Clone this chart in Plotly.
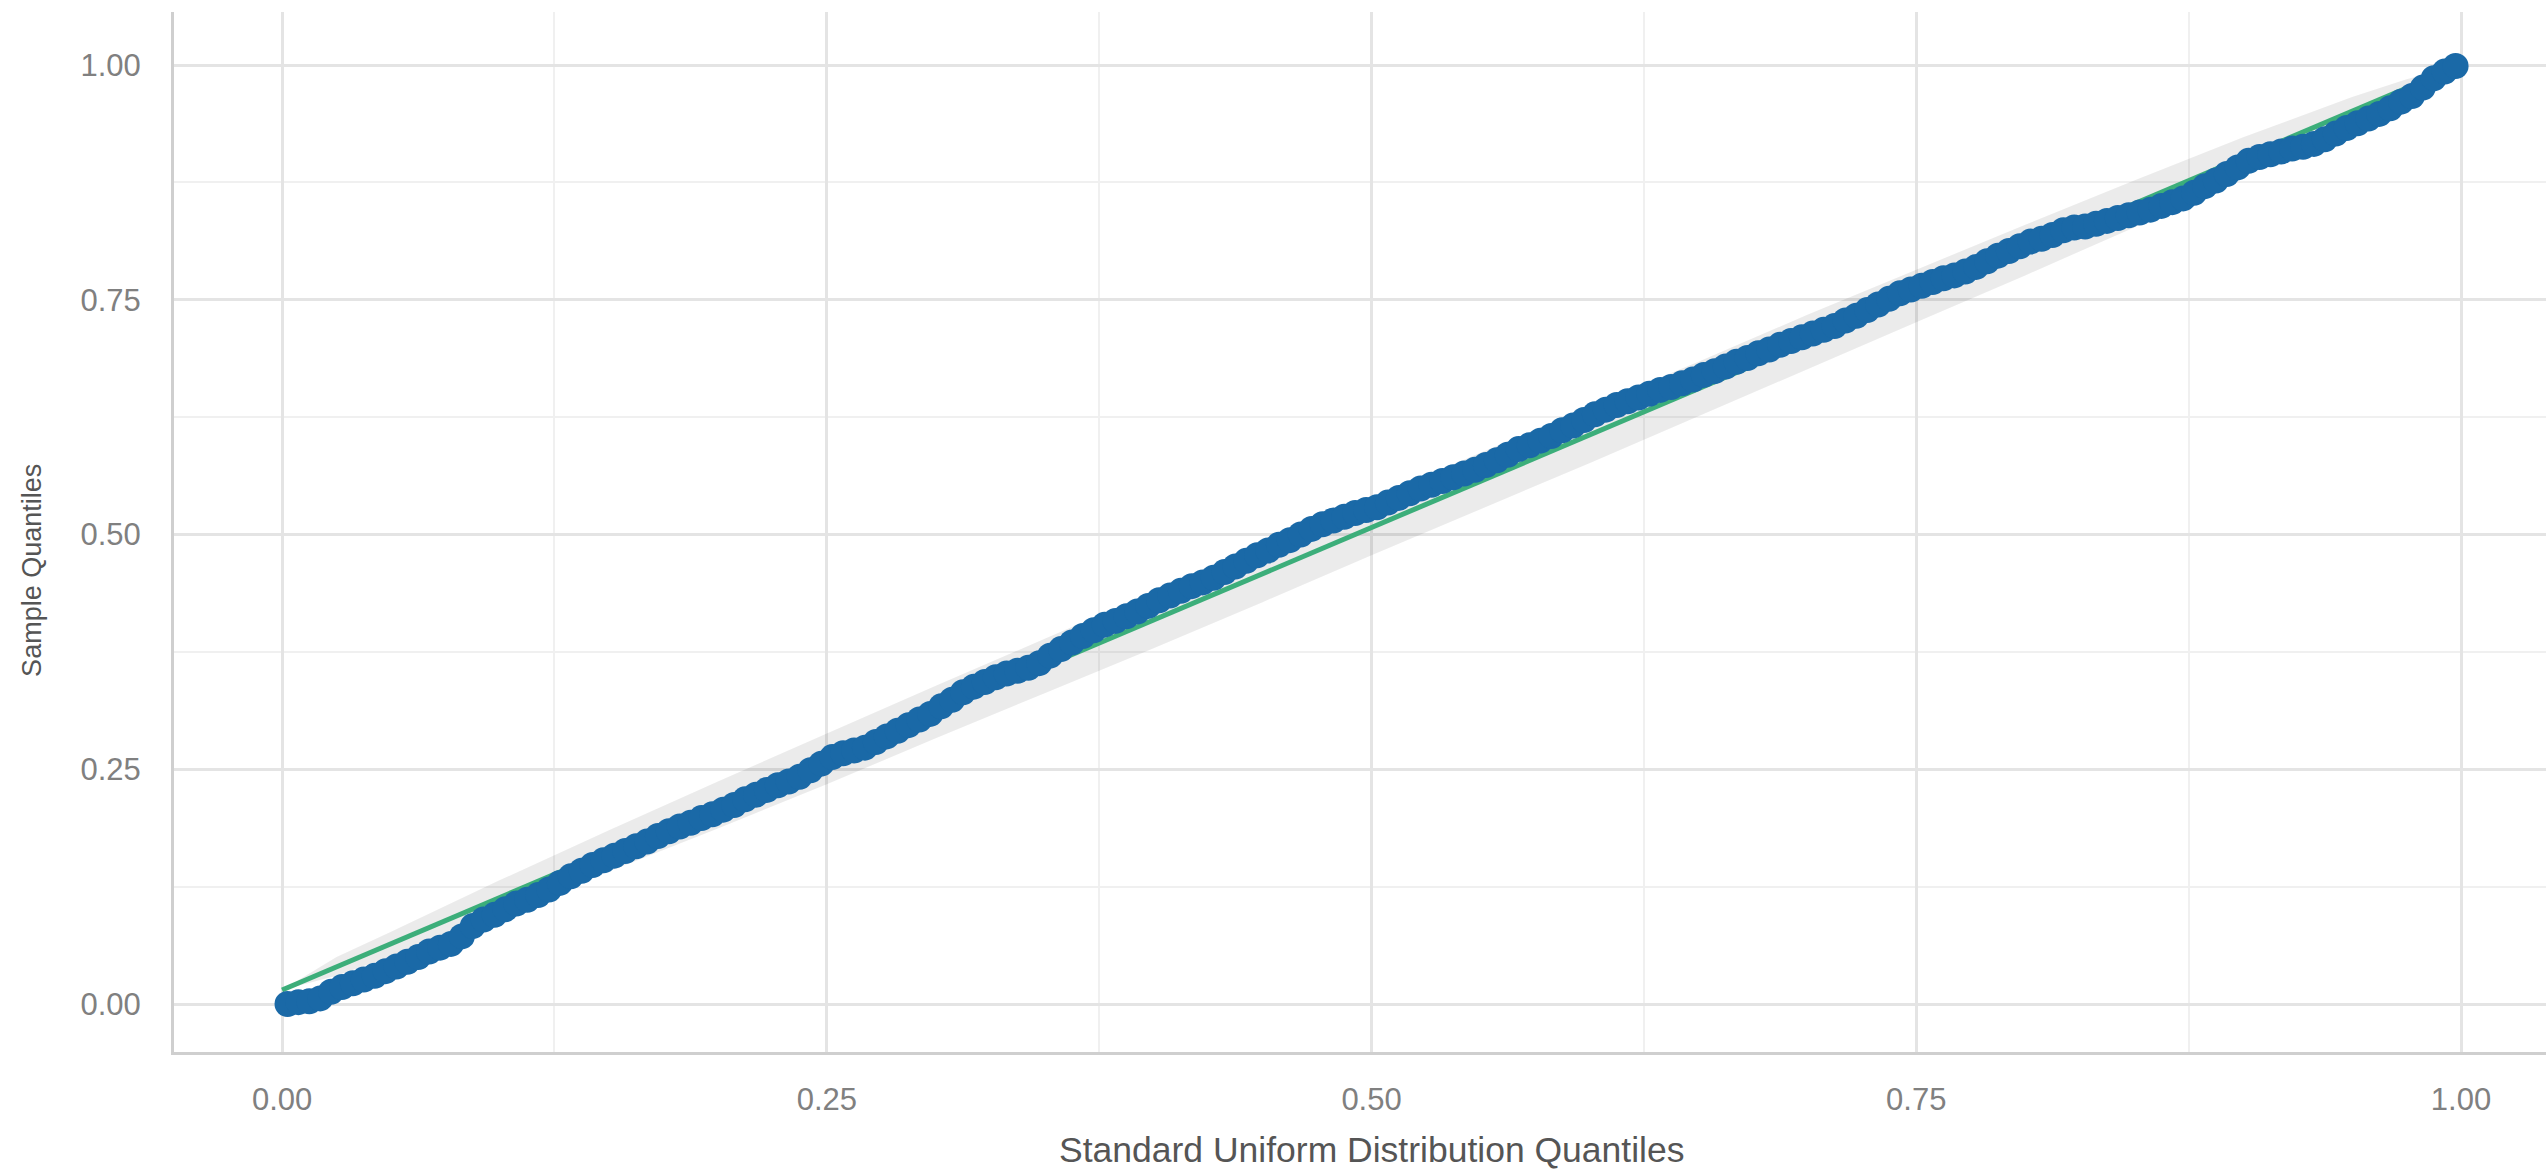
import plotly.graph_objects as go
import numpy as np

# Sorted sample quantiles (n = 200), plotted against uniform plotting positions
sample_quantiles = [
    0.000, 0.002, 0.003, 0.006, 0.013, 0.018, 0.022, 0.026, 0.030, 0.035,
    0.040, 0.045, 0.050, 0.056, 0.060, 0.064, 0.072, 0.083, 0.090, 0.095,
    0.101, 0.107, 0.111, 0.116, 0.122, 0.129, 0.136, 0.142, 0.148, 0.153,
    0.158, 0.163, 0.168, 0.173, 0.179, 0.184, 0.189, 0.193, 0.198, 0.202,
    0.207, 0.212, 0.218, 0.223, 0.228, 0.233, 0.237, 0.242, 0.249, 0.256,
    0.263, 0.267, 0.270, 0.273, 0.279, 0.285, 0.291, 0.297, 0.303, 0.309,
    0.317, 0.324, 0.332, 0.338, 0.343, 0.348, 0.352, 0.355, 0.358, 0.363,
    0.371, 0.378, 0.385, 0.392, 0.398, 0.404, 0.408, 0.413, 0.418, 0.424,
    0.430, 0.435, 0.440, 0.445, 0.449, 0.454, 0.460, 0.466, 0.472, 0.478,
    0.483, 0.489, 0.494, 0.500, 0.506, 0.511, 0.515, 0.519, 0.523, 0.526,
    0.529, 0.534, 0.539, 0.544, 0.549, 0.553, 0.557, 0.561, 0.565, 0.569,
    0.574, 0.579, 0.585, 0.591, 0.595, 0.600, 0.605, 0.611, 0.616, 0.622,
    0.628, 0.633, 0.638, 0.642, 0.646, 0.650, 0.654, 0.657, 0.661, 0.665,
    0.670, 0.674, 0.679, 0.684, 0.688, 0.693, 0.697, 0.702, 0.706, 0.710,
    0.714, 0.718, 0.722, 0.728, 0.733, 0.739, 0.745, 0.751, 0.757, 0.761,
    0.765, 0.769, 0.773, 0.776, 0.780, 0.785, 0.791, 0.797, 0.802, 0.807,
    0.812, 0.815, 0.819, 0.824, 0.827, 0.828, 0.831, 0.834, 0.837, 0.840,
    0.843, 0.846, 0.850, 0.854, 0.858, 0.864, 0.871, 0.877, 0.884, 0.891,
    0.898, 0.902, 0.905, 0.908, 0.911, 0.913, 0.916, 0.921, 0.927, 0.933,
    0.938, 0.943, 0.948, 0.954, 0.961, 0.967, 0.976, 0.986, 0.993, 0.999,
]

# Reference line through the quantiles
ref_line_x = [0.0, 1.0]
ref_line_y = [0.015, 1.0]

# Pointwise confidence band around the reference line
band_x = [0.000, 0.025, 0.050, 0.100, 0.150, 0.200, 0.250, 0.300, 0.350, 0.400,
          0.450, 0.500, 0.550, 0.600, 0.650, 0.700, 0.750, 0.800, 0.850, 0.900,
          0.950, 0.975, 1.000]
band_lower = [0.015, 0.030, 0.051, 0.096, 0.141, 0.187, 0.234, 0.283, 0.331, 0.379,
              0.428, 0.478, 0.527, 0.576, 0.626, 0.676, 0.726, 0.776, 0.827, 0.881,
              0.936, 0.965, 1.000]
band_upper = [0.015, 0.050, 0.077, 0.132, 0.185, 0.237, 0.288, 0.339, 0.389, 0.439,
              0.488, 0.538, 0.587, 0.636, 0.684, 0.734, 0.782, 0.830, 0.877, 0.923,
              0.966, 0.985, 1.000]

tick_vals = [0.0, 0.25, 0.5, 0.75, 1.0]
tick_text = ["0.00", "0.25", "0.50", "0.75", "1.00"]

x_title = "Standard Uniform Distribution Quantiles"
y_title = "Sample Quantiles"

# Theoretical quantiles of the standard uniform distribution
n = len(sample_quantiles)
theoretical = (np.arange(1, n + 1) - 0.5) / n

FONT = "Liberation Sans, Arial, Helvetica, sans-serif"
POINT_COLOR = "#1a69a7"
LINE_COLOR = "#3cae7a"

fig = go.Figure()

# band polygon: upper edge left-to-right, lower edge back
fig.add_trace(go.Scatter(
    x=band_x + band_x[::-1],
    y=band_upper + band_lower[::-1],
    fill="toself",
    fillcolor="rgba(0,0,0,0.08)",
    line=dict(width=0),
    mode="lines",
    hoverinfo="skip",
    showlegend=False,
))

fig.add_trace(go.Scatter(
    x=ref_line_x, y=ref_line_y,
    mode="lines",
    line=dict(color=LINE_COLOR, width=5),
    showlegend=False,
))

fig.add_trace(go.Scatter(
    x=theoretical, y=sample_quantiles,
    mode="markers",
    marker=dict(color=POINT_COLOR, size=26, line=dict(width=0)),
    showlegend=False,
))

axis_common = dict(
    tickvals=tick_vals,
    ticktext=tick_text,
    showgrid=True,
    gridcolor="#e4e4e4",
    gridwidth=3,
    minor=dict(dtick=0.125, tick0=0, showgrid=True, gridcolor="#f0f0f0", gridwidth=2),
    zeroline=False,
    showline=True,
    linecolor="#cfcfcf",
    linewidth=3,
    ticks="",
    tickfont=dict(family=FONT, size=31, color="#808080"),
)

fig.update_xaxes(range=[-0.0496, 1.039], ticklabelstandoff=18, **axis_common)
fig.update_yaxes(range=[-0.0511, 1.0565], ticklabelstandoff=24, **axis_common)

fig.update_layout(
    width=2546,
    height=1171,
    margin=dict(l=174, r=0, t=12, b=119),
    paper_bgcolor="white",
    plot_bgcolor="white",
    font=dict(family=FONT),
    annotations=[
        dict(text=x_title, x=0.5, xref="x", y=-0.0942, yref="paper",
             xanchor="center", yanchor="middle", showarrow=False,
             font=dict(family=FONT, size=35.5, color="#555555")),
        dict(text=y_title, x=-0.0599, xref="paper", y=0.4635, yref="paper",
             xanchor="center", yanchor="middle", textangle=-90, showarrow=False,
             font=dict(family=FONT, size=27, color="#555555")),
    ],
)

fig.write_html("out.html")
